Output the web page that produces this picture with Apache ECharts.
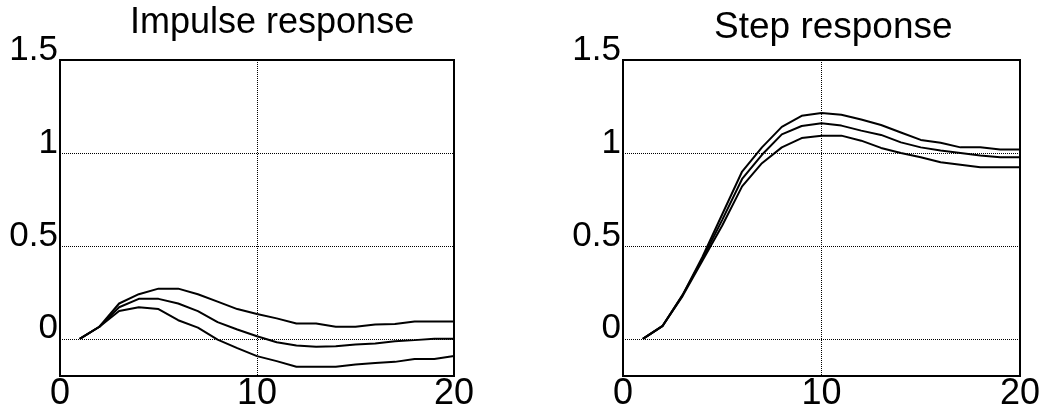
<!DOCTYPE html>
<html>
<head>
<meta charset="utf-8">
<script src="https://cdn.jsdelivr.net/npm/echarts@6/dist/echarts.min.js"></script>
<style>
html,body{margin:0;padding:0;background:#fff;}
#c{width:1053px;height:414px;}
</style>
</head>
<body>
<div id="c"></div>
<script>
const samples = [1,2,3,4,5,6,7,8,9,10,11,12,13,14,15,16,17,18,19,20];
const xTicks = [0, 10, 20];
const yTicks = [0, 0.5, 1, 1.5];
const titles = ['Impulse response', 'Step response'];

const impulseUpper = [0, 0.065, 0.19, 0.24, 0.27, 0.27, 0.24, 0.20, 0.16, 0.134, 0.11, 0.082, 0.082, 0.065, 0.065, 0.077, 0.08, 0.093, 0.093, 0.093];
const impulseMid   = [0, 0.065, 0.17, 0.215, 0.215, 0.19, 0.149, 0.09, 0.05, 0.014, -0.018, -0.036, -0.043, -0.04, -0.03, -0.025, -0.013, -0.007, 0, 0];
const impulseLower = [0, 0.065, 0.15, 0.17, 0.16, 0.10, 0.06, -0.004, -0.05, -0.093, -0.12, -0.15, -0.15, -0.15, -0.138, -0.13, -0.124, -0.108, -0.108, -0.093];

const stepUpper = [0, 0.07, 0.235, 0.44, 0.67, 0.90, 1.03, 1.14, 1.20, 1.215, 1.205, 1.18, 1.15, 1.11, 1.07, 1.055, 1.03, 1.03, 1.018, 1.018];
const stepMid   = [0, 0.07, 0.235, 0.43, 0.64, 0.86, 0.99, 1.10, 1.145, 1.16, 1.147, 1.12, 1.097, 1.057, 1.03, 1.013, 1.0, 0.986, 0.977, 0.977];
const stepLower = [0, 0.07, 0.23, 0.42, 0.61, 0.82, 0.945, 1.03, 1.08, 1.093, 1.093, 1.066, 1.027, 1.0, 0.977, 0.95, 0.937, 0.923, 0.923, 0.923];

const FONT = 'Liberation Sans, Arial, Helvetica, sans-serif';
const chart = echarts.init(document.getElementById('c'), null, {renderer: 'canvas'});

function pairs(ys){ return samples.map((x, i) => [x, ys[i]]); }

function xAxis(gi){
  return {
    type: 'value', gridIndex: gi, min: 0, max: 20, interval: 10,
    axisLine: {show: true, onZero: false, lineStyle: {color: '#000', width: 2}},
    axisTick: {show: false},
    axisLabel: {color: '#000', fontSize: 36, fontFamily: FONT, margin: 0,
      formatter: v => xTicks.indexOf(v) >= 0 ? String(v) : ''},
    splitLine: {show: true, lineStyle: {color: '#000', type: 'dotted', width: 1}}
  };
}
function yAxis(gi){
  return {
    type: 'value', gridIndex: gi, min: -0.2, max: 1.5,
    axisLine: {show: true, onZero: false, lineStyle: {color: '#000', width: 2}},
    axisTick: {show: false, customValues: yTicks},
    axisLabel: {color: '#000', fontSize: 35, fontFamily: FONT, margin: 2,
      customValues: yTicks, verticalAlign: 'bottom', lineHeight: 20,
      formatter: v => String(v)},
    splitLine: {show: true, lineStyle: {color: '#000', type: 'dotted', width: 1}}
  };
}
function line(gi, ys){
  return {
    type: 'line', xAxisIndex: gi, yAxisIndex: gi, data: pairs(ys),
    symbol: 'none', animation: false,
    lineStyle: {color: '#000', width: 2}
  };
}

chart.setOption({
  animation: false,
  backgroundColor: '#fff',
  title: [
    {text: titles[0], left: 125, top: 0, textStyle: {fontSize: 36, fontWeight: 'normal', color: '#000', fontFamily: FONT}},
    {text: titles[1], left: 709, top: 4, textStyle: {fontSize: 37, fontWeight: 'normal', color: '#000', fontFamily: FONT}}
  ],
  grid: [
    {left: 60, right: 599, top: 60, bottom: 38, show: true, borderColor: '#000', borderWidth: 2, backgroundColor: 'transparent'},
    {left: 623, right: 33, top: 60, bottom: 38, show: true, borderColor: '#000', borderWidth: 2, backgroundColor: 'transparent'}
  ],
  xAxis: [xAxis(0), xAxis(1)],
  yAxis: [yAxis(0), yAxis(1)],
  series: [
    line(0, impulseUpper), line(0, impulseMid), line(0, impulseLower),
    line(1, stepUpper), line(1, stepMid), line(1, stepLower)
  ]
});
</script>
</body>
</html>
